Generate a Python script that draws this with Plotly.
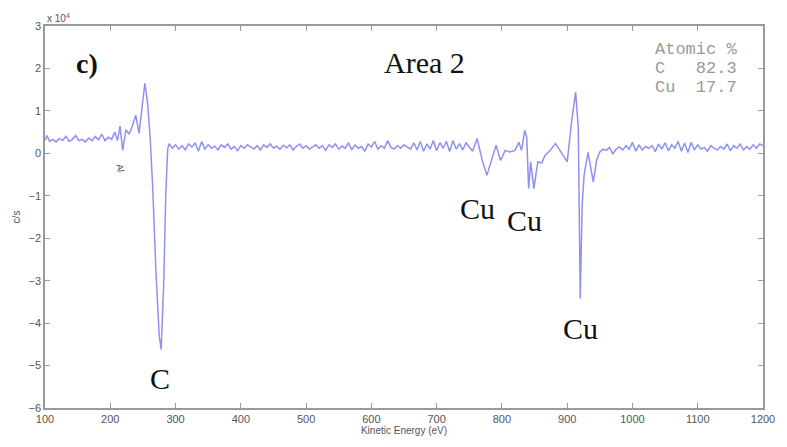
import plotly.graph_objects as go

energy = [100, 103, 107, 112, 117, 122, 127, 132, 137, 142, 147, 152, 157, 162, 167, 172, 177, 182, 187, 192,
          197, 202, 207, 211, 215, 219, 224, 229, 234, 239, 244, 249, 253, 257, 261, 265, 270, 275, 278, 282,
          285, 288, 290, 295, 300, 305, 310, 315, 320, 325, 330, 335, 340, 345, 350, 355, 360, 365, 370, 375,
          380, 385, 390, 395, 400, 405, 410, 415, 420, 425, 430, 435, 440, 445, 450, 455, 460, 465, 470, 475,
          480, 485, 490, 495, 500, 505, 510, 515, 520, 525, 530, 535, 540, 545, 550, 555, 560, 565, 570, 575,
          580, 585, 590, 595, 600, 605, 610, 615, 620, 625, 630, 635, 640, 645, 650, 655, 660, 665, 670, 675,
          680, 685, 690, 695, 700, 705, 710, 715, 720, 725, 730, 735, 740, 745, 750, 755, 762, 770, 777, 785,
          791, 798, 805, 812, 820, 826, 830, 835, 838, 841, 844, 849, 855, 861, 866, 874, 882, 886, 894, 900,
          907, 913, 917, 920, 923, 926, 932, 936, 940, 945, 950, 955, 960, 965, 970, 975, 980, 985, 990, 995,
          1000, 1005, 1010, 1015, 1020, 1025, 1030, 1035, 1040, 1045, 1050, 1055, 1060, 1065, 1070, 1075, 1080,
          1085, 1090, 1095, 1100, 1105, 1110, 1115, 1120, 1125, 1130, 1135, 1140, 1145, 1150, 1155, 1160, 1165,
          1170, 1175, 1180, 1185, 1190, 1195, 1200]

counts_1e4 = [0.30, 0.42, 0.28, 0.33, 0.27, 0.35, 0.30, 0.40, 0.28, 0.33, 0.42, 0.30, 0.33, 0.27, 0.36, 0.30, 0.40, 0.32, 0.45, 0.30,
              0.38, 0.33, 0.50, 0.30, 0.64, 0.07, 0.55, 0.45, 0.65, 0.90, 0.47, 1.10, 1.65, 1.20, 0.40, -0.80, -2.80, -4.30, -4.62, -3.00,
              -1.00, 0.10, 0.23, 0.12, 0.20, 0.10, 0.18, 0.08, 0.22, 0.15, 0.25, 0.05, 0.28, 0.10, 0.20, 0.12, 0.17, 0.08, 0.20, 0.14,
              0.22, 0.10, 0.16, 0.06, 0.18, 0.12, 0.20, 0.15, 0.10, 0.18, 0.08, 0.20, 0.14, 0.22, 0.12, 0.17, 0.10, 0.19, 0.13, 0.20,
              0.08, 0.16, 0.22, 0.12, 0.18, 0.10, 0.15, 0.20, 0.12, 0.18, 0.07, 0.20, 0.14, 0.22, 0.10, 0.17, 0.12, 0.25, 0.08, 0.20,
              0.12, 0.16, 0.05, 0.22, 0.15, 0.28, 0.10, 0.18, 0.12, 0.30, 0.14, 0.10, 0.18, 0.12, 0.20, 0.15, 0.10, 0.25, 0.08, 0.28,
              0.05, 0.22, 0.10, 0.30, 0.06, 0.25, 0.12, 0.28, 0.04, 0.30, 0.10, 0.22, 0.08, 0.25, 0.15, 0.05, 0.35, -0.17, -0.52, -0.10,
              0.19, -0.17, 0.07, 0.03, 0.07, 0.26, 0.07, 0.54, 0.38, -0.83, -0.20, -0.83, -0.20, -0.23, -0.05, 0.07, 0.23, 0.14, -0.05, -0.20,
              0.78, 1.44, 0.60, -3.42, -1.20, -0.50, 0.02, -0.30, -0.68, -0.17, 0.03, 0.10, 0.07, 0.14, -0.02, 0.10, 0.15, 0.08, 0.18, 0.10,
              0.26, 0.05, 0.20, 0.08, 0.16, 0.12, 0.18, 0.04, 0.22, 0.10, 0.25, 0.06, 0.20, 0.12, 0.28, 0.05, 0.24,
              0.02, 0.26, 0.08, 0.20, 0.10, 0.14, 0.05, 0.18, 0.12, 0.08, 0.16, 0.10, 0.22, 0.06, 0.18, 0.12, 0.22,
              0.08, 0.16, 0.10, 0.20, 0.12, 0.22, 0.18]

x_ticks = [100, 200, 300, 400, 500, 600, 700, 800, 900, 1000, 1100, 1200]
y_ticks = [-6, -5, -4, -3, -2, -1, 0, 1, 2, 3]

peak_labels = ["C", "Cu", "Cu", "Cu"]
peak_x = [276, 763, 834, 920]
peak_y = [-5.3, -1.3, -1.58, -4.13]

comp_lines = ["Atomic %", "C   82.3", "Cu  17.7"]
comp_y = [2.45, 2.0, 1.55]

fig = go.Figure()
fig.add_trace(go.Scatter(x=energy, y=counts_1e4, mode="lines",
                         line=dict(color="#9090f4", width=1.5), hoverinfo="skip"))

axis_common = dict(showgrid=False, zeroline=False, showline=True, linecolor="#9a9a9a", linewidth=1.5,
                   mirror="ticks", ticks="inside", ticklen=5, tickcolor="#9a9a9a", automargin=False,
                   tickfont=dict(family="Liberation Sans, Arial", size=11, color="#555555"))

fig.update_xaxes(range=[100, 1200], tickvals=x_ticks, **axis_common,
                 title=dict(text="Kinetic Energy (eV)", font=dict(family="Liberation Sans, Arial", size=10, color="#555555"),
                            standoff=2))
fig.update_yaxes(range=[-6, 3], tickvals=y_ticks, **axis_common,
                 title=dict(text="c/s", font=dict(family="Liberation Sans, Arial", size=10, color="#555555"),
                            standoff=6))

for t, xx, yy in zip(peak_labels, peak_x, peak_y):
    fig.add_annotation(x=xx, y=yy, text=t, showarrow=False,
                       font=dict(family="Liberation Serif, Times New Roman", size=30, color="#111111"))

fig.add_annotation(x=682, y=2.15, text="Area 2", showarrow=False,
                   font=dict(family="Liberation Serif, Times New Roman", size=30, color="#111111"))
fig.add_annotation(x=164, y=2.12, text="<b>c)</b>", showarrow=False,
                   font=dict(family="Liberation Serif, Times New Roman", size=28, color="#111111"))
fig.add_annotation(x=215, y=-0.35, text="Al", showarrow=False, textangle=80,
                   font=dict(family="Liberation Sans, Arial", size=9, color="#444444"))
fig.add_annotation(xref="paper", yref="paper", x=0.0, y=1.0, xanchor="left", yanchor="bottom",
                   text="x 10<sup>4</sup>", showarrow=False,
                   font=dict(family="Liberation Sans, Arial", size=10, color="#555555"))
for t, yy in zip(comp_lines, comp_y):
    fig.add_annotation(x=1031, y=yy, xanchor="left", yanchor="middle", align="left",
                       text=t.replace(" ", "&nbsp;"), showarrow=False,
                       font=dict(family="Liberation Mono, Courier New", size=17, color="#999999"))

fig.update_layout(width=779, height=439, margin=dict(l=37, r=24, t=18, b=39),
                  plot_bgcolor="white", paper_bgcolor="white", showlegend=False)

fig.write_html("out.html")
